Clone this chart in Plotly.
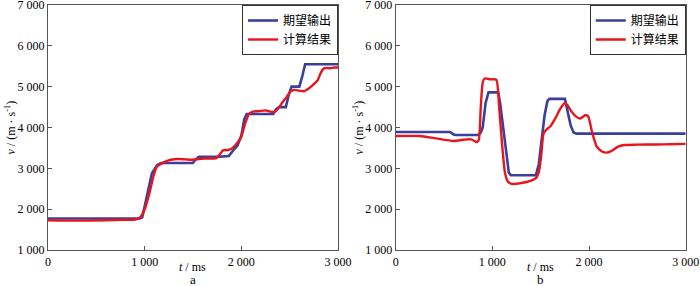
import plotly.graph_objects as go

# ---------------- data ----------------
# panel a
a_des_t = [0, 950, 975, 1000, 1040, 1075, 1100, 1130, 1170, 1500, 1520, 1560, 1750, 1800, 1870, 1920,
           1960, 2000, 2030, 2055, 2330, 2360, 2390, 2460, 2490, 2520, 2600, 2630, 2660, 3000]
a_des_v = [1770, 1770, 1800, 2100, 2500, 2880, 2960, 3080, 3130, 3130, 3200, 3280, 3280, 3290, 3300, 3450,
           3560, 3800, 4200, 4330, 4330, 4450, 4500, 4500, 4800, 5000, 5000, 5250, 5550, 5550]

a_cal_t = [0, 300, 600, 800, 900, 950, 1000, 1050, 1090, 1125, 1170, 1220, 1270, 1350, 1420, 1500, 1560,
           1650, 1740, 1780, 1810, 1860, 1900, 1950, 2000, 2040, 2080, 2120, 2180, 2250, 2300, 2340, 2380,
           2430, 2470, 2510, 2550, 2600, 2650, 2700, 2750, 2790, 2820, 2850, 2880, 2920, 2960, 3000]
a_cal_v = [1730, 1720, 1730, 1740, 1745, 1790, 2000, 2400, 2800, 3040, 3110, 3170, 3210, 3230, 3220, 3210,
           3230, 3240, 3250, 3350, 3440, 3450, 3480, 3600, 3780, 4100, 4330, 4390, 4400, 4420, 4390, 4380,
           4460, 4630, 4750, 4880, 4920, 4900, 4890, 4960, 5060, 5160, 5330, 5440, 5460, 5450, 5470, 5470]

# panel b
b_des_t = [0, 560, 600, 620, 850, 880, 900, 930, 960, 1060, 1080, 1110, 1140, 1170, 1190, 1450, 1480,
           1510, 1540, 1570, 1590, 1750, 1780, 1810, 1840, 1870, 3000]
b_des_v = [3890, 3890, 3830, 3815, 3815, 3870, 4000, 4600, 4860, 4860, 4600, 4000, 3400, 2900, 2830, 2830,
           3100, 3700, 4300, 4650, 4700, 4700, 4400, 4050, 3880, 3850, 3850]

b_cal_t = [0, 250, 400, 600, 700, 780, 840, 860, 880, 900, 920, 980, 1040, 1070, 1100, 1130, 1160, 1200,
           1300, 1400, 1450, 1480, 1505, 1530, 1560, 1600, 1660, 1700, 1750, 1780, 1810, 1860, 1910, 1960,
           1990, 2030, 2080, 2130, 2180, 2230, 2300, 2360, 2500, 2700, 2850, 3000]
b_cal_v = [3790, 3790, 3740, 3670, 3700, 3710, 3640, 3700, 4500, 5100, 5200, 5180, 5170, 4500, 3600, 2900,
           2680, 2620, 2640, 2700, 2760, 2900, 3300, 3860, 3950, 4030, 4260, 4450, 4600, 4540, 4420, 4280,
           4220, 4300, 4280, 3900, 3530, 3420, 3385, 3420, 3530, 3570, 3580, 3585, 3590, 3600]

x_tickvals = [0, 1000, 2000, 3000]
x_ticktext = ["0", "1 000", "2 000", "3 000"]
y_tickvals = [1000, 2000, 3000, 4000, 5000, 6000, 7000]
y_ticktext = ["1 000", "2 000", "3 000", "4 000", "5 000", "6 000", "7 000"]

series_names = ["期望输出", "计算结果"]
panel_labels = ["a", "b"]
x_title = "<i>t</i> / ms"
y_title = "<i>v</i> / (m · s<sup>-1</sup>)"

BLUE = "#3b3f9c"
RED = "#e8141e"
FONT = "'Liberation Serif', 'Noto Sans CJK SC', serif"

W, H = 700, 286
pa = (48, 338)
pb = (395.7, 685.7)
ptop, pbot = 5, 250

fig = go.Figure()

fig.add_trace(go.Scatter(x=a_des_t, y=a_des_v, mode="lines", name=series_names[0],
                         line=dict(color=BLUE, width=2.6), xaxis="x", yaxis="y", legend="legend"))
fig.add_trace(go.Scatter(x=a_cal_t, y=a_cal_v, mode="lines", name=series_names[1],
                         line=dict(color=RED, width=2.4, shape="spline", smoothing=0.6),
                         xaxis="x", yaxis="y", legend="legend"))
fig.add_trace(go.Scatter(x=b_des_t, y=b_des_v, mode="lines", name=series_names[0],
                         line=dict(color=BLUE, width=2.6), xaxis="x2", yaxis="y2", legend="legend2"))
fig.add_trace(go.Scatter(x=b_cal_t, y=b_cal_v, mode="lines", name=series_names[1],
                         line=dict(color=RED, width=2.4, shape="spline", smoothing=0.6),
                         xaxis="x2", yaxis="y2", legend="legend2"))

axis_common = dict(showline=True, linecolor="#555555", linewidth=1.3, mirror=True, automargin=False,
                   ticks="inside", ticklen=4, tickcolor="#555555", showgrid=False, zeroline=False,
                   ticklabeloverflow="allow",
                   tickfont=dict(family=FONT, size=12, color="black"))

ydom = [1 - pbot / H, 1 - ptop / H]

leg_common = dict(y=1 - ptop / H, xanchor="right", yanchor="top",
                  bgcolor="white", bordercolor="#333333", borderwidth=1,
                  font=dict(family=FONT, size=12, color="black"), itemwidth=30, tracegroupgap=0)

fig.update_layout(
    width=W, height=H, margin=dict(l=0, r=0, t=0, b=0, autoexpand=False),
    plot_bgcolor="white", paper_bgcolor="white",
    showlegend=True,
    xaxis=dict(domain=[pa[0] / W, pa[1] / W], range=[0, 3000], tickvals=x_tickvals, ticktext=x_ticktext,
               anchor="y", **axis_common),
    yaxis=dict(domain=ydom, range=[1000, 7000], tickvals=y_tickvals, ticktext=y_ticktext,
               anchor="x", **axis_common),
    xaxis2=dict(domain=[pb[0] / W, pb[1] / W], range=[0, 3000], tickvals=x_tickvals, ticktext=x_ticktext,
                anchor="y2", **axis_common),
    yaxis2=dict(domain=ydom, range=[1000, 7000], tickvals=y_tickvals, ticktext=y_ticktext,
                anchor="x2", **axis_common),
    legend=dict(x=pa[1] / W, **leg_common),
    legend2=dict(x=pb[1] / W, **leg_common),
)

for lab, (x0, x1), ylx in zip(panel_labels, [pa, pb], [10, 358]):
    xc = (x0 + x1) / 2 / W
    fig.add_annotation(text=lab, x=xc, y=1 - 279 / H, xref="paper", yref="paper",
                       showarrow=False, font=dict(family=FONT, size=13, color="black"),
                       xanchor="center", yanchor="middle", borderpad=0)
    fig.add_annotation(text=x_title, x=xc, y=1 - 267 / H, xref="paper", yref="paper",
                       showarrow=False, font=dict(family=FONT, size=12, color="black"),
                       xanchor="center", yanchor="middle", borderpad=0)
    fig.add_annotation(text=y_title, x=ylx / W, y=1 - (ptop + pbot) / 2 / H, xref="paper", yref="paper",
                       showarrow=False, textangle=-90, font=dict(family=FONT, size=12, color="black"),
                       xanchor="center", yanchor="middle")

fig.write_html("out.html", config={"displayModeBar": False},
               post_script="document.body.style.margin='0';document.body.style.overflow='hidden';")
